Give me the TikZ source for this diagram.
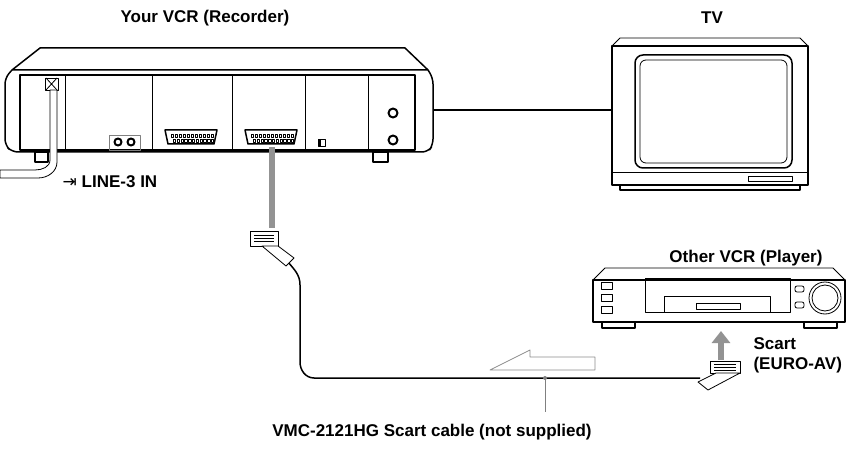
\documentclass[tikz,border=0pt]{standalone}
\usepackage{fontspec}
\setmainfont{Liberation Sans}
\newfontfamily\symfont{DejaVu Sans}
\usetikzlibrary{calc,arrows.meta}
\tikzset{
	lbl/.style={font=\bfseries\fontsize{17}{20}\selectfont},
	ln/.style={line width=1.5pt},
	thin/.style={line width=0.8pt},
	grayarrow/.style={line width=6pt,gray!85},
}
\begin{document}
\begin{tikzpicture}[x=1pt,y=-1pt,line join=round]
	\useasboundingbox (0,0) rectangle (865,468);
	%LABELS
	\node[lbl](rec) at (205,18){Your VCR (Recorder)};
	\node[lbl](tv) at (712,18){TV};
	\node[lbl](line) at (110,182){{\symfont\mdseries\char"21E5}\ LINE-3 IN};
	\node[lbl](oth) at (746,258){Other VCR (Player)};
	\node[lbl,align=left,anchor=west](scart) at (750,355){Scart\\(EURO-AV)};
	\node[lbl](cab) at (432,432){VMC-2121HG Scart cable (not supplied)};
	%RECORDER
	\draw[ln,rounded corners=6] (12,70) -- (5,78) -- (5,145) -- (12,152) -- (428,152) -- (433,145) -- (433,78) -- (428,70);
	\draw[ln] (12,70) -- (40,48) -- (405,48) -- (428,70) -- cycle;
	\draw[ln] (20,75) rectangle (415,150);
	\foreach \x in {65,152,232,305,368} \draw[thin] (\x,75) -- (\x,150);
	\draw[ln] (35,152) rectangle (48,162);
	\draw[ln] (373,152) rectangle (388,162);
	\draw[thin] (45,78) rectangle (58,90);
	\draw[thin] (46,78) -- (57,90) (57,78) -- (46,90);
	\draw[thin,fill=white] (50,90) -- (50,160) to[out=-90,in=0] (35,170) -- (0,170) -- (0,178) -- (38,178) to[out=0,in=-90] (57,162) -- (57,90) -- cycle;
	\draw[thin,gray] (109,135) rectangle (140,150);
	\foreach \x in {118,131} \draw[line width=2pt] (\x,142) circle (3.5);
	\foreach \x in {165,245} {
		\draw[ln] (\x,130) -- (\x+52,130) -- (\x+49,144) -- (\x+3,144) -- cycle;
		\foreach \i in {0,...,10} \draw[very thin] (\x+6+\i*4,134) rectangle ++(2.5,3) (\x+8+\i*3.8,139) rectangle ++(2.5,3);
	}
	\draw[thin] (318,139) rectangle (325,146);
	\fill (318,139) rectangle (321,146);
	\foreach \y in {113,140} \draw[line width=2pt] (393,\y) circle (4.5);
	%TV
	\draw[ln] (612,46) -- (808,46) -- (808,185) -- (612,185) -- cycle;
	\draw[thin] (612,46) -- (620,38) -- (800,38) -- (808,46);
	\draw[ln,rounded corners=8] (635,55) rectangle (792,168);
	\draw[thin,rounded corners=6] (640,60) rectangle (787,163);
	\draw[thin] (612,172) -- (808,172);
	\draw[thin] (748,176) rectangle (792,181);
	\draw[ln] (620,185) -- (620,190) -- (800,190) -- (800,185);
	\coordinate (tvin) at (612,110);
	\coordinate (recout) at (433,110);
	\draw[ln] (recout) -- (tvin);
	%PLAYER
	\draw[ln] (593,280) rectangle (845,322);
	\draw[thin] (593,280) -- (605,268) -- (833,268) -- (845,280);
	\draw[thin] (645,278) rectangle (790,312);
	\draw[thin] (664,296) rectangle (770,312);
	\draw[thin] (696,303) rectangle (740,309);
	\foreach \y in {282,294,306} \draw[thin] (601,\y) rectangle (612,\y+7);
	\foreach \y in {289,305} \draw[thin,rounded corners=2] (795,\y-3) rectangle (804,\y+3);
	\draw[thin] (825,298) circle (16) (825,298) circle (13);
	\draw[ln] (602,322) rectangle (635,328) (804,322) rectangle (837,328);
	%CABLE
	\coordinate (plugA) at (288,262);
	\coordinate (plugB) at (700,378);
	\draw[ln] (plugA) to[out=-50,in=90] (300,285) -- (300,362) to[out=-90,in=180] (314,378) -- (plugB);
	\draw[grayarrow] (272,147) -- (272,228);
	\draw[thin,fill=white] (250,231) rectangle (278,246);
	\foreach \y in {235,238,241} \draw[very thin] (254,\y) -- (274,\y);
	\draw[thin,fill=white] (262,246) -- (278,246) -- (294,258) -- (286,266) -- cycle;
	\draw[grayarrow,-{Triangle[length=12pt,width=18pt]}] (721,360) -- (721,331);
	\draw[thin,fill=white] (710,361) rectangle (740,373);
	\foreach \y in {364,367,370} \draw[very thin] (714,\y) -- (736,\y);
	\draw[thin,fill=white] (716,373) -- (740,373) -- (708,390) -- (698,382) -- cycle;
	%HOLLOW ARROW
	\draw[thin,gray!90] (490,370) -- (530,350) -- (530,357) -- (595,357) -- (595,370) -- cycle;
	\draw[thin,gray] (545,378) -- (545,412);
	\fill[gray] (545,378) circle (2);
\end{tikzpicture}
\end{document}
